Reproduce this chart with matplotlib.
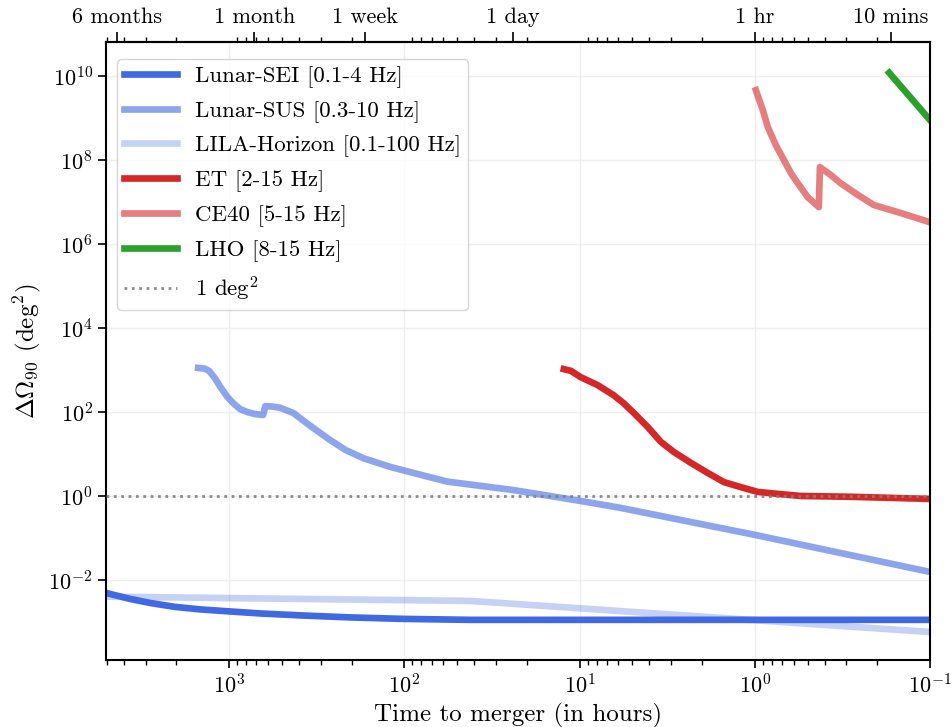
import matplotlib
matplotlib.use("Agg")
from matplotlib import pyplot as plt
from matplotlib.ticker import NullLocator

plt.rcParams['font.family'] = 'serif'
plt.rcParams['font.serif'] = ['cmr10']
plt.rcParams['mathtext.fontset'] = 'cm'
plt.rcParams['axes.formatter.use_mathtext'] = True
plt.rcParams['axes.unicode_minus'] = False

# time to merger (hours) and sky area (deg^2)
sei_t = [5050, 3680, 2830, 2040, 1470, 1000, 665, 393, 204, 101, 42, 10, 1, 0.1]
sei_area = [4.9e-3, 3.53e-3, 2.83e-3, 2.28e-3, 1.99e-3, 1.78e-3, 1.59e-3, 1.43e-3,
            1.28e-3, 1.18e-3, 1.12e-3, 1.12e-3, 1.12e-3, 1.12e-3]

sus_t = [1503, 1380, 1300, 1200, 1125, 1026, 948, 865, 789, 710, 640, 622, 568, 512,
         431, 344, 265, 217, 171, 120, 81, 57, 23.8, 9.86, 5.83, 0.986, 0.1]
sus_area = [1120, 1080, 950, 620, 400, 230, 162, 117, 100, 89, 85, 138, 135, 126,
            95, 46.6, 21.4, 12.5, 7.9, 4.9, 3.2, 2.2, 1.38, 0.76, 0.52, 0.117, 0.0155]

lila_t = [5050, 42, 0.1]
lila_area = [4.0e-3, 3.16e-3, 5.75e-4]

et_t = [12.3, 11.2, 9.86, 7.89, 6.39, 5.61, 4.91, 4.08, 3.44, 2.90, 2.32, 1.86,
        1.50, 1.20, 0.962, 0.739, 0.546, 0.282, 0.1]
et_area = [1050, 955, 676, 437, 251, 162, 95.5, 43.7, 19.5, 11.2, 6.17, 3.55,
           2.14, 1.62, 1.25, 1.12, 1.0, 0.955, 0.85]

ce_t = [0.986, 0.90, 0.843, 0.759, 0.682, 0.622, 0.568, 0.498, 0.431, 0.425,
        0.368, 0.323, 0.258, 0.209, 0.147, 0.1]
ce_area = [4.64e9, 1.55e9, 6.1e8, 2.28e8, 1e8, 4.9e7, 2.8e7, 1.3e7, 7.6e6, 6.8e7,
           4.4e7, 2.8e7, 1.48e7, 8.5e6, 5.5e6, 3.3e6]

lho_t = [0.171, 0.1]
lho_area = [1.2e10, 9e8]

top_ticks = [4380, 720, 168, 24, 1, 1 / 6]
top_labels = ['6 months', '1 month', '1 week', '1 day', '1 hr', '10 mins']

fig = plt.figure(figsize=(9.52, 7.27), dpi=100)
ax = fig.add_axes([0.1113, 0.0922, 0.8656, 0.850])

lw = 4.8
ax.plot(sei_t, sei_area, color='royalblue', lw=lw, label='Lunar-SEI [0.1-4 Hz]')
ax.plot(sus_t, sus_area, color='royalblue', alpha=0.6, lw=lw, label='Lunar-SUS [0.3-10 Hz]')
ax.plot(lila_t, lila_area, color='royalblue', alpha=0.3, lw=lw, label='LILA-Horizon [0.1-100 Hz]')
ax.plot(et_t, et_area, color='tab:red', lw=lw, label='ET [2-15 Hz]')
ax.plot(ce_t, ce_area, color='tab:red', alpha=0.6, lw=lw, label='CE40 [5-15 Hz]')
ax.plot(lho_t, lho_area, color='tab:green', lw=lw, label='LHO [8-15 Hz]')
ax.axhline(1, color='gray', ls=':', lw=2, alpha=0.9, zorder=5, label=r'1 deg$^2$')

ax.set_xscale('log')
ax.set_yscale('log')
ax.set_xlim(5050, 0.1)
ax.set_ylim(1.24e-4, 6.5e10)
ax.set_yticks([1e-2, 1, 1e2, 1e4, 1e6, 1e8, 1e10])
ax.yaxis.set_minor_locator(NullLocator())
ax.grid(True, which='major', color='#eeeeee', lw=1)
ax.set_axisbelow(True)

ax.set_xlabel('Time to merger (in hours)', fontsize=18)
ax.set_ylabel(r'$\Delta\Omega_{90}$ (deg$^2$)', fontsize=18)
ax.tick_params(which='major', direction='out', length=6, width=1.2, labelsize=16)
ax.tick_params(which='minor', direction='out', length=3.5, width=1)
for s in ax.spines.values():
    s.set_linewidth(1.5)

top = ax.secondary_xaxis('top')
top.set_xticks(top_ticks)
top.set_xticklabels(top_labels)
top.tick_params(which='major', direction='out', length=7, width=1.2, labelsize=16)
top.tick_params(which='minor', direction='out', length=3.5, width=1)
top.spines['top'].set_linewidth(1.5)

ax.legend(loc='upper left', bbox_to_anchor=(0, 0.991), fontsize=16.5,
          handlelength=2.3, labelspacing=0.56, borderpad=0.3, borderaxespad=0.5,
          framealpha=0.8, edgecolor='#cccccc')

fig.savefig('out.png', dpi=100)
